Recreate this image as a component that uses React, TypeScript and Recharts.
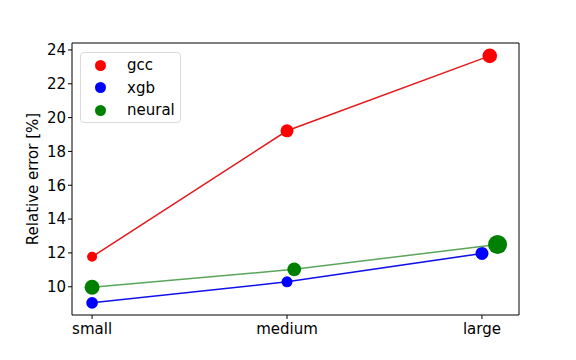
import { ScatterChart, Scatter, XAxis, YAxis, ZAxis, Legend, ReferenceLine } from 'recharts';

// categories on the x axis (positions 0, 1, 2)
const categories = ['small', 'medium', 'large'];
const xTicks = [0, 1, 2];
const yTicks = [10, 12, 14, 16, 18, 20, 22, 24];

// each series is shifted slightly along x so the markers don't overlap
const gccX = [0, 1, 2.04];
const gccError = [11.77, 19.22, 23.65];
const gccSize = [100, 169, 215];

const xgbX = [0, 1, 2];
const xgbError = [9.05, 10.29, 11.97];
const xgbSize = [137, 121, 169];

const neuralX = [0, 1.037, 2.08];
const neuralError = [9.97, 11.03, 12.5];
const neuralSize = [225, 188, 361];

const xDomain = [-0.103, 2.19];
const yDomain = [8.33, 24.41];

const build = (xs: number[], ys: number[], sizes: number[]) =>
  xs.map((x, i) => ({ x, y: ys[i], s: sizes[i] }));

const series = [
  { name: 'gcc', color: '#ff0000', line: '#e3191b', data: build(gccX, gccError, gccSize) },
  { name: 'xgb', color: '#0000ff', line: '#1010e8', data: build(xgbX, xgbError, xgbSize) },
  { name: 'neural', color: '#008000', line: '#5aa55a', data: build(neuralX, neuralError, neuralSize) },
];

const font = '"DejaVu Sans", sans-serif';

const LegendBox = () => (
  <div style={{
    width: 101,
    height: 71,
    border: '1px solid #d9d9d9',
    borderRadius: 4,
    background: 'rgba(255,255,255,0.8)',
    fontFamily: font,
    fontSize: 15,
    color: '#000',
    paddingTop: 1,
    boxSizing: 'border-box',
  }}>
    {series.map(s => (
      <div key={s.name} style={{ display: 'flex', alignItems: 'center', height: 22.5 }}>
        <span style={{
          display: 'inline-block', width: 11, height: 11, borderRadius: '50%',
          background: s.color, marginLeft: 14, marginRight: 21,
        }} />
        <span>{s.name}</span>
      </div>
    ))}
  </div>
);

const YLabel = ({ viewBox }: any) => {
  const cx = viewBox.x + 33;
  const cy = viewBox.y + viewBox.height / 2;
  return (
    <text x={cx} y={cy} transform={`rotate(-90 ${cx} ${cy})`} textAnchor="middle"
      dominantBaseline="central" fontSize={15} fontFamily={font} fill="#000">
      Relative error [%]
    </text>
  );
};

function App() {
  return (
    <div style={{ position: 'absolute', left: 0, top: 0, background: '#fff' }}>
      <ScatterChart width={576} height={360} margin={{ top: 43, right: 57, bottom: 15, left: 0 }}>
        <XAxis
          dataKey="x"
          type="number"
          domain={xDomain}
          ticks={xTicks}
          tickFormatter={(v: number) => categories[v]}
          height={30}
          axisLine={{ stroke: '#000', strokeWidth: 1 }}
          tickLine={{ stroke: '#000' }}
          tickSize={4}
          tick={{ fontSize: 15, fontFamily: font, fill: '#000', dy: 2 }}
          allowDataOverflow
        />
        <YAxis
          dataKey="y"
          type="number"
          domain={yDomain}
          ticks={yTicks}
          width={72}
          axisLine={{ stroke: '#000', strokeWidth: 1 }}
          tickLine={{ stroke: '#000' }}
          tickSize={4}
          tick={{ fontSize: 15, fontFamily: font, fill: '#000' }}
          allowDataOverflow
          label={<YLabel />}
        />
        <ZAxis dataKey="s" type="number" domain={[0, 400]} range={[0, 314]} />
        <ReferenceLine y={yDomain[1]} stroke="#000" strokeWidth={1} />
        <ReferenceLine x={xDomain[1]} stroke="#000" strokeWidth={1} />
        <Legend
          layout="horizontal"
          verticalAlign="middle"
          align="center"
          content={<LegendBox />}
          wrapperStyle={{ left: 80, top: 52, width: 'auto' }}
        />
        {series.map(s => (
          <Scatter
            key={s.name}
            name={s.name}
            data={s.data}
            fill={s.color}
            line={{ stroke: s.line, strokeWidth: 1.5 }}
            lineType="joint"
            isAnimationActive={false}
          />
        ))}
      </ScatterChart>
    </div>
  );
}

export default App;
